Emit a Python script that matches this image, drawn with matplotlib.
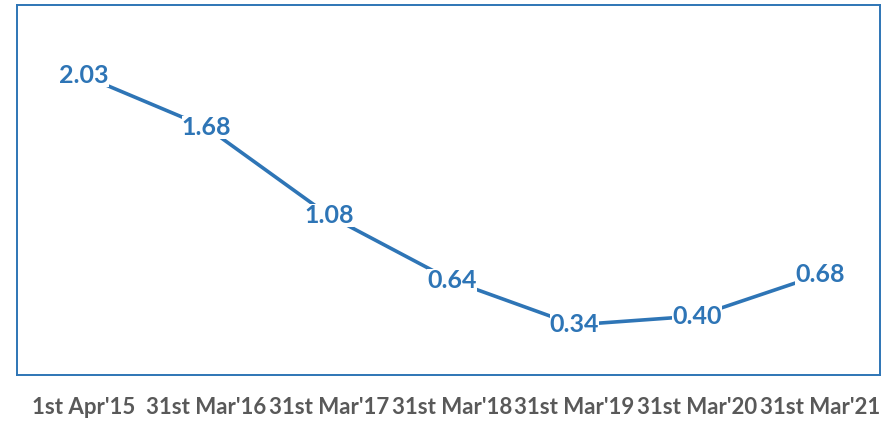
import matplotlib
matplotlib.use("Agg")
import matplotlib.pyplot as plt

categories = ["1st Apr'15", "31st Mar'16", "31st Mar'17", "31st Mar'18",
              "31st Mar'19", "31st Mar'20", "31st Mar'21"]
values = [2.03, 1.68, 1.08, 0.64, 0.34, 0.40, 0.68]
value_labels = ["2.03", "1.68", "1.08", "0.64", "0.34", "0.40", "0.68"]

blue = "#2E75B6"
W, H = 883, 422
fig = plt.figure(figsize=(W / 100, H / 100), dpi=100)
ax = fig.add_axes([17 / W, (H - 375) / H, 863 / W, 370 / H])

x = list(range(len(categories)))
ax.plot(x, values, color=blue, linewidth=2.6, solid_capstyle="butt", zorder=2)
for xi, v, lab in zip(x, values, value_labels):
    ax.text(xi, v, lab, ha="center", va="center", fontsize=18, fontweight="bold",
            color=blue, family="Lato", zorder=3,
            bbox=dict(boxstyle="square,pad=0.0", facecolor="white", edgecolor="none"))

ax.set_xlim(-0.546, 6.49)
ax.set_ylim(0, 2.51)
ax.set_yticks([])
ax.set_xticks(x)
ax.set_xticklabels(categories, fontsize=16, fontweight="bold", color="#595959", family="Lato")
ax.tick_params(axis="x", length=0, pad=16)
for s in ax.spines.values():
    s.set_color(blue)
    s.set_linewidth(1.4)

fig.savefig("out.png", dpi=100)
